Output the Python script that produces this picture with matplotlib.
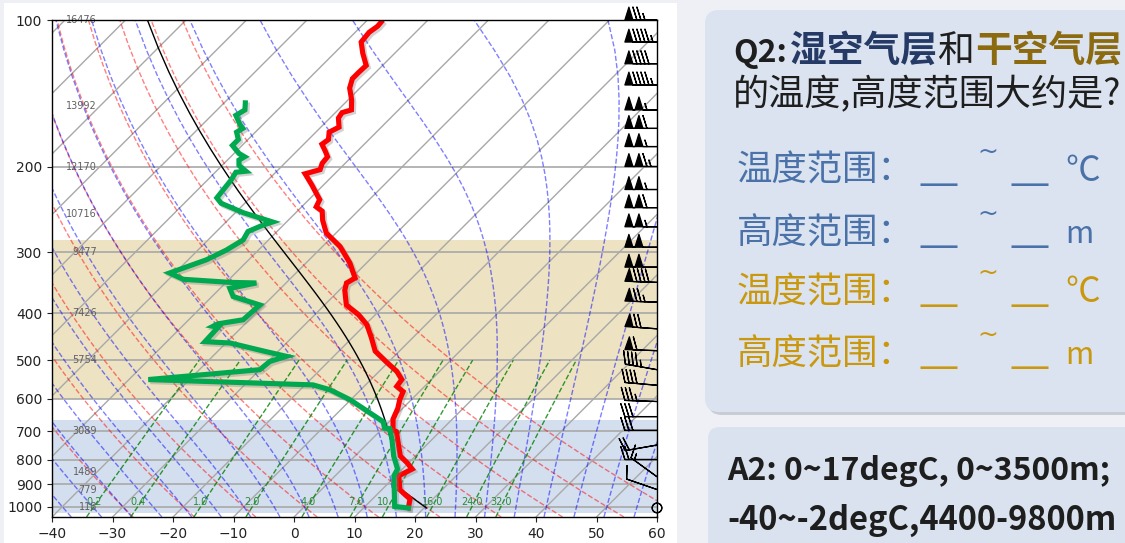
import numpy as np
import matplotlib
matplotlib.use('Agg')
from matplotlib import pyplot as plt
from matplotlib import transforms
from matplotlib import patheffects as pe
from matplotlib.patches import FancyBboxPatch, Rectangle
from matplotlib.ticker import NullLocator

CJK = ['Noto Sans CJK SC', 'DejaVu Sans']

# sounding: temperature (degC) and dewpoint (degC) vs pressure (hPa)
t_pres = [101, 103, 106, 111, 117, 124, 128, 132, 138, 146, 153, 155, 159, 166, 170, 176,
          180, 186, 191, 197, 203, 207, 218, 234, 242, 247, 258, 274, 292, 316, 339, 347,
          359, 385, 403, 423, 450, 479, 506, 527, 548, 566, 580, 603, 628, 661, 696, 701,
          740, 787, 812, 837, 864, 923, 945, 964, 1006]
t_temp = [-67.4, -67.3, -67.7, -67.4, -65.3, -62.7, -62.8, -62.8, -61.7, -59.4, -57.8, -58.9,
          -58.6, -57.0, -57.8, -56.7, -57.0, -55.3, -54.0, -53.8, -53.1, -54.9, -52.0, -48.2,
          -47.6, -45.9, -44.3, -41.6, -37.1, -32.7, -29.4, -30.0, -29.1, -26.4, -22.8, -19.7,
          -16.8, -14.0, -10.1, -7.1, -4.9, -4.6, -2.7, -1.9, -0.8, 0.2, 2.0, 2.8, 5.0, 7.5,
          9.7, 11.6, 10.5, 13.0, 14.7, 16.2, 17.4]

td_pres = [148, 153, 157, 164, 167, 170, 176, 181, 188, 191, 194, 199, 204.5, 205.5, 213, 232,
           238, 249, 260, 264, 272, 283, 297, 311, 331, 341, 346, 347, 356, 370, 385, 413,
           421, 426, 428, 458, 461, 479, 491, 503, 523, 548, 562, 575, 603, 642, 669, 690,
           691, 728, 787, 837, 864, 999, 1006]
td_temp = [-76.5, -75.4, -76.0, -73.8, -72.7, -73.1, -71.6, -71.6, -69.2, -67.7, -68.1, -67.2,
           -65.1, -66.6, -66.1, -65.5, -63.9, -58.6, -52.3, -53.4, -54.8, -54.2, -55.3, -57.0,
           -60.9, -57.6, -49.4, -44.9, -48.4, -46.5, -40.7, -41.0, -44.5, -44.9, -43.9, -43.7,
           -39.3, -32.4, -27.8, -29.7, -30.0, -46.8, -18.7, -15.1, -10.1, -4.6, -1.0, 0.3,
           1.2, 3.4, 6.4, 9.2, 9.7, 14.9, 17.4]

# parcel start (hPa, degC, degC)
parcel_p0, parcel_t0, parcel_td0 = 1006.0, 20.4, 14.3

# geopotential height labels (m)
hgt_pres = [100, 150, 200, 250, 300, 400, 500, 700, 850, 925, 1000]
hgt_vals = [16476, 13992, 12170, 10716, 9477, 7426, 5754, 3089, 1489, 779, 118]

# wind barbs (knots, direction wind comes from)
barb_pres = [100, 111, 123, 136, 153, 167, 182, 200, 223, 243, 266, 293, 322, 346, 380, 431,
             478, 523, 563, 608, 653, 697, 747, 800, 868, 922, 1006]
barb_spd = [75, 95, 90, 95, 105, 110, 105, 115, 105, 110, 105, 100, 100, 90, 75, 70,
            60, 45, 40, 35, 30, 30, 20, 20, 15, 10, 0]
barb_dir = [270, 270, 270, 270, 270, 270, 270, 270, 270, 270, 270, 270, 270, 272, 272, 274,
            272, 280, 275, 272, 270, 270, 260, 270, 306, 289, 0]

# background reference lines
mix_ratios = [0.2, 0.4, 1.0, 2.0, 4.0, 7.0, 10.0, 16.0, 24.0, 32.0]  # g/kg
dry_t0 = np.arange(-30, 61, 10)
moist_t0 = np.arange(-50, 56, 5)
isotherms = np.arange(-140, 61, 10)

moist_layer = (665, 1030)
dry_layer = (283, 600)

Rd, Cp, Lv, eps = 287.04749, 1004.666, 2.50084e6, 0.622


def sat_mix(p, t):
    es = 6.112 * np.exp(17.67 * (t - 273.15) / (t - 29.65))
    return eps * es / (p - es)


def dtdlnp(lnp, t):
    rs = sat_mix(np.exp(lnp), t)
    return (Rd * t + Lv * rs) / (Cp + Lv * Lv * rs * eps / (Rd * t * t))


def moist_lapse(pres, t0, p0):
    t = np.asarray(t0, dtype=float)
    lp = np.log(p0)
    out = []
    for p in pres:
        h = (np.log(p) - lp) / 4
        for _ in range(4):
            k1 = dtdlnp(lp, t)
            k2 = dtdlnp(lp + h / 2, t + h / 2 * k1)
            k3 = dtdlnp(lp + h / 2, t + h / 2 * k2)
            k4 = dtdlnp(lp + h, t + h * k3)
            t = t + h / 6 * (k1 + 2 * k2 + 2 * k3 + k4)
            lp += h
        out.append(t)
    return np.array(out)


W, H = 605, 497
fig = plt.figure(figsize=(11.25, 5.43), dpi=100)
fig.patch.set_facecolor('#eef0f5')
fig.add_artist(Rectangle((4 / 1125, 0), 673 / 1125, 540 / 543, transform=fig.transFigure,
                         facecolor='white', edgecolor='none', zorder=-5))

ax = fig.add_axes([52 / 1125, 26 / 543, W / 1125, H / 543])
ax.set_yscale('log')
ax.set_xlim(-40, 60)
ax.set_ylim(1050, 100)
ax.set_autoscale_on(False)
skew = (ax.transScale + ax.transLimits
        + transforms.Affine2D().skew(np.arctan(H / W), 0) + ax.transAxes)

# shaded layers
ax.axhspan(*dry_layer, color='#d9bf77', alpha=0.45, lw=0, zorder=0.3)
ax.axhspan(*moist_layer, color='#9fb6dc', alpha=0.45, lw=0, zorder=0.3)

# isotherms
for t in isotherms:
    ax.plot([t, t], [1050, 100], color='#a8a8a8', lw=1, transform=skew, zorder=0.8)

pgrid = np.linspace(1050, 100, 80)
# dry adiabats
for t0 in dry_t0:
    ax.plot((t0 + 273.15) * (pgrid / 1000) ** 0.2857 - 273.15, pgrid, color='r', alpha=0.5,
            ls='--', lw=1, transform=skew, zorder=1)

# moist adiabats
p_up = np.linspace(1000, 100, 60)
p_dn = np.array([1010, 1020, 1030, 1040, 1050.0])
up = moist_lapse(p_up, moist_t0 + 273.15, 1000.0)
dn = moist_lapse(p_dn, moist_t0 + 273.15, 1000.0)
p_all = np.concatenate([p_dn[::-1], p_up])
t_all = np.concatenate([dn[::-1], up]) - 273.15
for i in range(len(moist_t0)):
    ax.plot(t_all[:, i], p_all, color='b', alpha=0.5, ls='--', lw=1, transform=skew, zorder=1)

# mixing ratio lines
pm = np.linspace(1050, 500, 30)
for w in mix_ratios:
    e = w / 1000 * pm / (eps + w / 1000)
    td = 243.5 * np.log(e / 6.112) / (17.67 - np.log(e / 6.112))
    ax.plot(td, pm, color='g', alpha=0.8, ls='--', lw=1, transform=skew, zorder=1)
    e0 = w / 1000 * 1000 / (eps + w / 1000)
    td0 = 243.5 * np.log(e0 / 6.112) / (17.67 - np.log(e0 / 6.112))
    ax.text(td0, 1000, f'{w:.1f}', transform=skew, ha='center', va='bottom', fontsize=7,
            color='#2a8a35', zorder=2)

# parcel profile
tk, tdk = parcel_t0 + 273.15, parcel_td0 + 273.15
t_lcl = 1 / (1 / (tdk - 56) + np.log(tk / tdk) / 800) + 56
p_lcl = parcel_p0 * (t_lcl / tk) ** (1 / 0.2857)
p_dry = np.linspace(parcel_p0, p_lcl, 10)
p_wet = np.linspace(p_lcl, 100, 60)
prof = np.concatenate([tk * (p_dry / parcel_p0) ** 0.2857, moist_lapse(p_wet, t_lcl, p_lcl)]) - 273.15
ax.plot(prof, np.concatenate([p_dry, p_wet]), color='black', lw=1, transform=skew, zorder=2)

# temperature and dewpoint
shadow = [pe.SimpleLineShadow(offset=(1.5, -1.5), shadow_color='gray', alpha=0.35), pe.Normal()]
ax.plot(t_temp, t_pres, color='#ff0000', lw=3.7, transform=skew, zorder=3,
        path_effects=shadow, solid_joinstyle='miter')
ax.plot(td_temp, td_pres, color='#00a850', lw=3.7, transform=skew, zorder=3,
        path_effects=shadow, solid_joinstyle='miter')

# height labels
bt = transforms.blended_transform_factory(ax.transAxes, ax.transData)
for p, h in zip(hgt_pres, hgt_vals):
    ax.text(0.0744, p, str(h), transform=bt, ha='right', va='center', fontsize=7,
            color='#606060', zorder=2)

# wind barbs
rad = np.deg2rad(barb_dir)
u = -np.array(barb_spd) * np.sin(rad)
v = -np.array(barb_spd) * np.cos(rad)
ax.barbs(np.ones(len(barb_pres)), barb_pres, u, v, transform=bt, clip_on=False,
         length=6.8, lw=0.9, color='black', zorder=5)

ax.set_yticks(range(100, 1001, 100))
ax.set_yticklabels([str(p) for p in range(100, 1001, 100)])
ax.yaxis.set_minor_locator(NullLocator())
ax.set_xticks(range(-40, 61, 10))
ax.yaxis.grid(True, color='#a8a8a8', lw=1.2)
ax.set_axisbelow(True)
ax.tick_params(labelsize=10, colors='#222222')
for s in ax.spines.values():
    s.set_color('black')
    s.set_linewidth(1)
    s.set_zorder(4)

# right-hand panels
ident = transforms.IdentityTransform()
fig.add_artist(FancyBboxPatch((708, 543 - 415), 440, 402, boxstyle='round,pad=0,rounding_size=14',
                              facecolor='#b9bdc6', edgecolor='none', alpha=0.7, transform=ident))
fig.add_artist(FancyBboxPatch((705, 543 - 412), 440, 402, boxstyle='round,pad=0,rounding_size=14',
                              facecolor='#dbe3f0', edgecolor='none', transform=ident))
fig.add_artist(FancyBboxPatch((708, -20), 440, 543 - 427 + 20, boxstyle='round,pad=0,rounding_size=12',
                              facecolor='#dae2ef', edgecolor='none', transform=ident))


def put(x, y, s, va='baseline', family=CJK, **kw):
    return fig.text(x / 1125, 1 - y / 543, s, va=va, family=family, **kw)


# question title, pieces placed where they sit in the picture
for s, x, c, wt, fs in [('Q2:', 733, '#1e1e1e', 'bold', 23), ('湿空气层', 790, '#263a66', 'bold', 26.5),
                        ('和', 937, '#1e1e1e', 'normal', 26.5), ('干空气层', 975, '#8c6a10', 'bold', 26.5)]:
    put(x, 62, s, color=c, fontsize=fs, fontweight=wt)
put(733, 105, '的温度,高度范围大约是?', color='#1e1e1e', fontsize=26)

rows = [('温度范围：', '℃', '#4a72a8', 181), ('高度范围：', 'm', '#4a72a8', 243),
        ('温度范围：', '℃', '#c9980e', 302), ('高度范围：', 'm', '#c9980e', 364)]
for lab, unit, c, y in rows:
    put(737, y, lab, color=c, fontsize=25.5)
    put(920, y, '__', color=c, fontsize=25)
    put(977, y - 29, '~', va='center', family='DejaVu Sans', color=c, fontsize=18)
    put(1011, y, '__', color=c, fontsize=25)
    put(1065, y, unit, color=c, fontsize=25 if unit == '℃' else 22)

put(727, 480, 'A2: 0~17degC, 0~3500m;', color='#1e1e1e', fontsize=23, fontweight='bold')
put(727, 530, '-40~-2degC,4400-9800m', color='#1e1e1e', fontsize=23.5, fontweight='bold')

fig.savefig('out.png', dpi=100, facecolor=fig.get_facecolor())
